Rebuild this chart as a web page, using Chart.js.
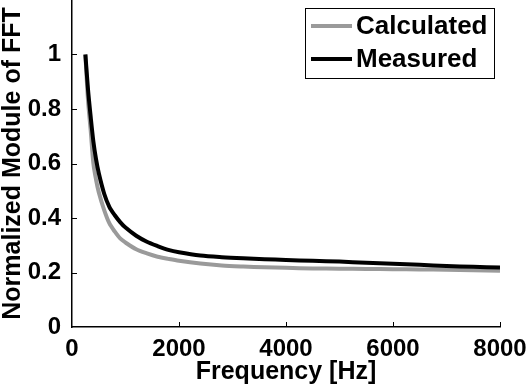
<!DOCTYPE html>
<html>
<head>
<meta charset="utf-8">
<script src="https://cdn.jsdelivr.net/npm/chart.js@4/dist/chart.umd.min.js"></script>
<style>
  html, body { margin: 0; padding: 0; background: #fff; }
  #wrap { width: 528px; height: 387px; }
</style>
</head>
<body>
<div id="wrap"><canvas id="chartjs-0" width="528" height="387"></canvas></div>
<script>
// frequency samples in Hz
var freqs = [250, 300, 350, 400, 450, 500, 600, 700, 800, 900, 1000, 1200, 1400, 1600, 1800, 2000,
             2400, 2800, 3200, 3600, 4000, 4500, 5000, 5500, 6000, 6500, 7000, 7500, 8000];
// normalized FFT modulus
var calculated = [1.0, 0.83, 0.72, 0.60, 0.54, 0.495, 0.43, 0.38, 0.35, 0.325, 0.31, 0.285, 0.27, 0.258, 0.25, 0.243,
                  0.233, 0.226, 0.222, 0.219, 0.217, 0.215, 0.214, 0.213, 0.212, 0.211, 0.21, 0.208, 0.206];
var measured = [1.0, 0.87, 0.77, 0.68, 0.615, 0.565, 0.49, 0.44, 0.41, 0.385, 0.365, 0.335, 0.313, 0.297, 0.283, 0.274,
                0.262, 0.256, 0.252, 0.249, 0.246, 0.243, 0.24, 0.236, 0.232, 0.228, 0.224, 0.221, 0.218];
var seriesNames = ["Calculated", "Measured"];
var seriesColors = ["#9a9a9a", "#000000"];
var xTicks = [0, 2000, 4000, 6000, 8000];
var yTicks = [0, 0.2, 0.4, 0.6, 0.8, 1];

var FONT = "'Liberation Sans', Arial, sans-serif";

function toPoints(xs, ys) {
    var pts = [];
    for (var i = 0; i < xs.length; i++) {
        pts.push({ x: xs[i], y: ys[i] });
    }
    return pts;
}

/* inward tick marks, like the matlab axes */
var innerTicks = {
    id: "innerTicks",
    afterDatasetsDraw: function (chart) {
        var ctx = chart.ctx;
        var xs = chart.scales.x, ys = chart.scales.y;
        var area = chart.chartArea;
        ctx.save();
        ctx.strokeStyle = "#000";
        ctx.lineWidth = 1;
        ctx.beginPath();
        for (var i = 1; i < xTicks.length; i++) {
            var px = Math.round(xs.getPixelForValue(xTicks[i])) + 0.5;
            ctx.moveTo(px, area.bottom);
            ctx.lineTo(px, area.bottom - 5);
        }
        for (var j = 1; j < yTicks.length; j++) {
            var py = Math.round(ys.getPixelForValue(yTicks[j])) + 0.5;
            ctx.moveTo(area.left, py);
            ctx.lineTo(area.left + 5, py);
        }
        ctx.stroke();
        ctx.restore();
    }
};

/* legend box in the upper right corner */
var boxLegend = {
    id: "boxLegend",
    afterDraw: function (chart) {
        var ctx = chart.ctx;
        var bx = 305, by = 8, bw = 189, bh = 70;
        ctx.save();
        ctx.fillStyle = "#fff";
        ctx.fillRect(bx, by, bw, bh);
        ctx.strokeStyle = "#000";
        ctx.lineWidth = 1;
        ctx.strokeRect(bx + 0.5, by + 0.5, bw, bh);
        ctx.font = "bold 26px " + FONT;
        ctx.textBaseline = "middle";
        ctx.fillStyle = "#000";
        for (var i = 0; i < seriesNames.length; i++) {
            var ly = by + 18 + i * 33;
            ctx.strokeStyle = seriesColors[i];
            ctx.lineWidth = 4;
            ctx.beginPath();
            ctx.moveTo(bx + 6, ly);
            ctx.lineTo(bx + 47, ly);
            ctx.stroke();
            ctx.fillText(seriesNames[i], bx + 51, ly + 1);
        }
        ctx.restore();
    }
};

var ctx0 = document.getElementById("chartjs-0");
var myChart = new Chart(ctx0, {
    type: "line",
    data: {
        datasets: [
            { label: seriesNames[0], data: toPoints(freqs, calculated), borderColor: seriesColors[0],
              borderWidth: 4, pointRadius: 0, fill: false, tension: 0.3, order: 2 },
            { label: seriesNames[1], data: toPoints(freqs, measured), borderColor: seriesColors[1],
              borderWidth: 4, pointRadius: 0, fill: false, tension: 0.3, order: 1 }
        ]
    },
    options: {
        responsive: false,
        animation: false,
        layout: { padding: { left: 0, top: 0, right: 28, bottom: 0 } },
        plugins: { legend: { display: false }, tooltip: { enabled: false } },
        scales: {
            x: {
                type: "linear",
                min: 0, max: 8000,
                grid: { display: false },
                border: { display: true, color: "#000", width: 1.5 },
                ticks: {
                    stepSize: 2000, color: "#000", padding: 0,
                    font: { family: FONT, size: 24, weight: "bold" },
                    maxRotation: 0,
                    callback: function (v) { return String(v); }
                },
                title: {
                    display: true, text: "Frequency [Hz]", color: "#000",
                    font: { family: FONT, size: 25, weight: "bold" },
                    padding: { top: 0, bottom: 0 }
                },
                afterFit: function (scale) {
                    scale.height = 60;
                    scale.paddingLeft = 0;
                    scale.paddingRight = 0;
                }
            },
            y: {
                min: 0, max: 1.2,
                grid: { display: false },
                border: { display: true, color: "#000", width: 1.5 },
                ticks: {
                    stepSize: 0.2, color: "#000", padding: 3,
                    font: { family: FONT, size: 24, weight: "bold" },
                    callback: function (v) {
                        if (v > 1.01) return null;
                        return String(Math.round(v * 10) / 10);
                    }
                },
                title: {
                    display: true, text: "Normalized Module of FFT", color: "#000",
                    font: { family: FONT, size: 25, weight: "bold" },
                    padding: { top: -2, bottom: 0 }
                },
                afterFit: function (scale) {
                    scale.width = 72;
                    scale.paddingTop = 0;
                    scale.paddingBottom = 0;
                }
            }
        }
    },
    plugins: [innerTicks, boxLegend]
});
</script>
</body>
</html>
